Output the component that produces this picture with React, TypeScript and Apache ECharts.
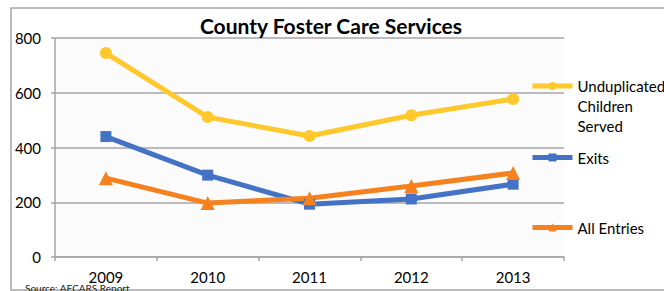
import React, { useEffect, useRef } from "react";
import * as echarts from "echarts";

const years = ["2009", "2010", "2011", "2012", "2013"];
const unduplicated = [745, 511, 442, 518, 577];
const exits = [440, 299, 193, 212, 266];
const entries = [288, 197, 215, 259, 307];
const yTicks = { min: 0, max: 800, interval: 200 };

const FONT = "Lato";
const YELLOW = "#FFC82C";
const BLUE = "#4472C4";
const ORANGE = "#F5821F";
const GRID = "#a6a6a6";

export default function App() {
  const ref = useRef<HTMLDivElement>(null);
  useEffect(() => {
    if (!ref.current) return;
    const chart = echarts.init(ref.current, undefined, { renderer: "svg" });
    const legendBase = {
      orient: "vertical",
      left: 530,
      padding: 0,
      itemWidth: 40,
      itemHeight: 10,
      lineStyle: { width: 5 },
      textStyle: { fontFamily: FONT, fontSize: 15, color: "#000" },
    };
    const legendItem = (name: string) => [{ name, lineStyle: { width: 5 } }];
    chart.setOption({
      animation: false,
      backgroundColor: "#fff",
      title: {
        text: "County Foster Care Services",
        left: 331,
        textAlign: "center",
        top: 15,
        padding: 0,
        textStyle: { fontFamily: FONT, fontSize: 21, fontWeight: "bold", color: "#000" },
      },
      graphic: [
        {
          type: "rect",
          shape: { x: 11, y: 8, width: 700, height: 282 },
          style: { fill: "none", stroke: GRID, lineWidth: 1.5 },
          silent: true,
        },
        {
          type: "text",
          x: 25,
          y: 283,
          style: { text: "Source: AFCARS Report", fontFamily: FONT, fontSize: 10, fill: "#222" },
        },
      ],
      legend: [
        {
          ...legendBase,
          top: 36,
          data: legendItem("Unduplicated Children Served"),
          formatter: () => "\n\nUnduplicated\nChildren\nServed",
          textStyle: {
            ...legendBase.textStyle,
            lineHeight: 20,
          },
        },
        { ...legendBase, top: 150, data: legendItem("Exits") },
        { ...legendBase, top: 220, data: legendItem("All Entries") },
      ],
      grid: {
        left: 55,
        top: 38,
        width: 509,
        height: 219,
        show: true,
        backgroundColor: "#fbfbfb",
        borderWidth: 0,
      },
      xAxis: {
        type: "category",
        data: years,
        boundaryGap: true,
        axisLine: { lineStyle: { color: GRID, width: 1.5 } },
        axisTick: { show: true, length: 4, lineStyle: { color: GRID, width: 1.5 } },
        axisLabel: { fontFamily: FONT, fontSize: 15, color: "#000", margin: 12 },
      },
      yAxis: {
        type: "value",
        ...yTicks,
        axisLine: { show: true, lineStyle: { color: GRID, width: 1.5 } },
        axisTick: { show: true, length: 4, lineStyle: { color: GRID, width: 1.5 } },
        axisLabel: { fontFamily: FONT, fontSize: 15, color: "#000", margin: 14 },
        splitLine: { lineStyle: { color: GRID, width: 1.5 } },
      },
      series: [
        {
          name: "Unduplicated Children Served",
          type: "line",
          data: unduplicated,
          symbol: "circle",
          symbolSize: 12,
          lineStyle: { color: YELLOW, width: 5 },
          itemStyle: { color: YELLOW },
        },
        {
          name: "Exits",
          type: "line",
          data: exits,
          symbol: "rect",
          symbolSize: 11,
          lineStyle: { color: BLUE, width: 5 },
          itemStyle: { color: BLUE },
        },
        {
          name: "All Entries",
          type: "line",
          data: entries,
          symbol: "triangle",
          symbolSize: 14,
          lineStyle: { color: ORANGE, width: 5 },
          itemStyle: { color: ORANGE },
        },
      ],
    });
    return () => chart.dispose();
  }, []);
  return (
    <div
      ref={ref}
      style={{ position: "fixed", left: 0, top: 0, width: 664, height: 291 }}
    />
  );
}
